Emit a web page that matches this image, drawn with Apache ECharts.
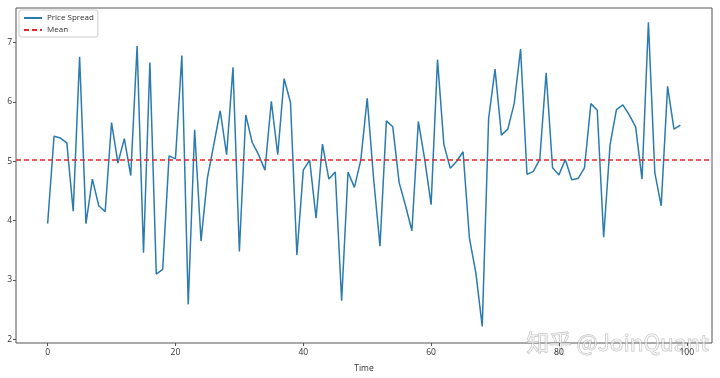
<!DOCTYPE html>
<html>
<head>
<meta charset="utf-8">
<script src="https://cdn.jsdelivr.net/npm/echarts@6/dist/echarts.min.js"></script>
<style>html,body{margin:0;padding:0;background:#fff}#c{width:720px;height:378px}</style>
</head>
<body>
<div id="c"></div>
<script>
var timeIndex = [];
for (var i = 0; i < 100; i++) timeIndex.push(i);
var priceSpread = [
3.95,5.42,5.39,5.31,4.16,6.76,3.95,4.70,4.25,4.15,
5.65,4.97,5.38,4.76,6.94,3.46,6.66,3.10,3.18,5.09,
5.04,6.78,2.59,5.53,3.66,4.72,5.28,5.85,5.11,6.58,
3.48,5.78,5.32,5.11,4.85,6.01,5.11,6.39,5.99,3.42,
4.85,5.02,4.04,5.29,4.70,4.82,2.65,4.82,4.56,5.02,
6.06,4.71,3.57,5.68,5.58,4.64,4.25,3.83,5.67,5.03,
4.27,6.71,5.28,4.88,5.00,5.16,3.70,3.12,2.22,5.72,
6.55,5.44,5.54,5.97,6.89,4.78,4.83,5.03,6.49,4.89,
4.77,5.03,4.69,4.71,4.89,5.97,5.86,3.72,5.28,5.87,
5.95,5.78,5.58,4.70,7.34,4.81,4.25,6.26,5.54,5.61
];
var meanValue = 5.03;
var xTicks = [0, 20, 40, 60, 80, 100];
var yTicks = [2, 3, 4, 5, 6, 7];

var lineData = timeIndex.map(function (t, k) { return [t, priceSpread[k]]; });
var font = 'Open Sans';
var chart = echarts.init(document.getElementById('c'), null, {renderer: 'canvas'});
chart.setOption({
  animation: false,
  grid: {left: 16, right: 8, top: 8, bottom: 31, show: true, borderColor: '#555', borderWidth: 1, backgroundColor: 'transparent'},
  legend: {
    left: 19, top: 10, orient: 'vertical', itemWidth: 18, itemHeight: 8, itemGap: 4,
    borderColor: '#ccc', borderWidth: 1, borderRadius: 2, padding: [4, 4, 3, 4],
    itemStyle: {opacity: 0},
    textStyle: {fontFamily: font, fontSize: 8, color: '#333'},
    data: ['Price Spread', 'Mean']
  },
  xAxis: {
    type: 'value', min: -4.95, max: 103.95,
    name: 'Time', nameLocation: 'middle', nameGap: 21,
    nameTextStyle: {fontFamily: font, fontSize: 8.5, color: '#333'},
    axisLine: {show: false, onZero: false}, splitLine: {show: false},
    axisTick: {show: true, length: 3, lineStyle: {color: '#555'}, customValues: xTicks},
    axisLabel: {fontFamily: font, fontSize: 8.5, color: '#333', margin: 5, customValues: xTicks}
  },
  yAxis: {
    type: 'value', min: 1.94, max: 7.58,
    axisLine: {show: false, onZero: false}, splitLine: {show: false},
    axisTick: {show: true, length: 3, lineStyle: {color: '#555'}, customValues: yTicks},
    axisLabel: {fontFamily: font, fontSize: 8.5, color: '#333', margin: 4, customValues: yTicks}
  },
  series: [
    {
      name: 'Price Spread', type: 'line', data: lineData, symbol: 'none',
      lineStyle: {color: '#2b7bb0', width: 1.5}, itemStyle: {color: '#2b7bb0'}
    },
    {
      name: 'Mean', type: 'line', data: [], symbol: 'none',
      lineStyle: {color: '#e3262a', width: 1.5, type: [5, 3]}, itemStyle: {color: '#e3262a'},
      markLine: {
        silent: true, symbol: 'none', label: {show: false},
        lineStyle: {color: '#e3262a', width: 1.5, type: [5, 3]},
        data: [{yAxis: meanValue}]
      }
    }
  ],
  graphic: [{
    type: 'text', left: 526, top: 331,
    style: {text: '知乎 @JoinQuant', fontFamily: 'Noto Sans CJK SC', fontSize: 22.5,
      fill: 'rgba(255,255,255,0.55)', stroke: 'rgba(140,140,140,0.55)', lineWidth: 1}
  }]
});
</script>
</body>
</html>
